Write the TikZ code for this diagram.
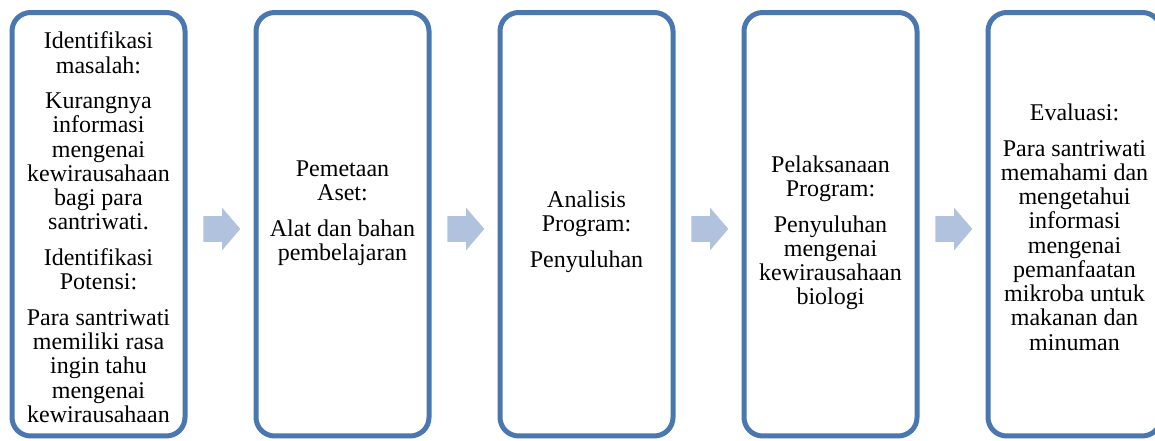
\documentclass[tikz,border=0pt]{standalone}
\usepackage{fontspec}
\setmainfont{Liberation Serif}
\usetikzlibrary{shapes.arrows, positioning}
\definecolor{stepline}{HTML}{4A77B0}
\definecolor{arrowfill}{HTML}{B1C2DE}

\begin{document}
\begin{tikzpicture}[x=0.75pt, y=-0.75pt,
    stepbox/.style={draw=stepline, line width=3.75pt, rounded corners=14pt, fill=white,
      minimum width=129.75pt, minimum height=317.6pt, inner sep=0pt},
    steptext/.style={anchor=north, inner sep=0pt, align=center, font=\fontsize{18}{18.2}\selectfont},
    flowarrow/.style={single arrow, fill=arrowfill, draw=none, minimum height=27.75pt,
      minimum width=31.5pt, single arrow head extend=6.375pt, inner xsep=0pt,
      inner ysep=9.375pt, single arrow tip angle=99, anchor=tail}]
  \useasboundingbox (0,0) rectangle (1155,441);
  \clip (0,0) rectangle (1155,441);
  % five stages
  \foreach \i in {1,...,5}
    \node[stepbox] (box\i) at ({98.5+244*(\i-1)},224.25) {};
  % block arrows between the stages
  \foreach \i in {1,...,4}
    \node[flowarrow] (arr\i) at ({203+244*(\i-1)},229) {};
  % texts
  \node[steptext] (txt1) at (98.5,31.6) {Identifikasi\\ masalah:\\[8.5pt]
    Kurangnya\\ informasi\\ mengenai\\ kewirausahaan\\ bagi para\\ santriwati.\\[8.5pt]
    Identifikasi\\ Potensi:\\[8.5pt]
    Para santriwati\\ memiliki rasa\\ ingin tahu\\ mengenai\\ kewirausahaan};
  \node[steptext] (txt2) at (342.5,160.3) {Pemetaan\\ Aset:\\[8.5pt]
    Alat dan bahan\\ pembelajaran};
  \node[steptext] (txt3) at (586.5,190.3) {Analisis\\ Program:\\[8.5pt]
    Penyuluhan};
  \node[steptext] (txt4) at (830.5,155.3) {Pelaksanaan\\ Program:\\[8.5pt]
    Penyuluhan\\ mengenai\\ kewirausahaan\\ biologi};
  \node[steptext] (txt5) at (1074.5,103.6) {Evaluasi:\\[8.5pt]
    Para santriwati\\ memahami dan\\ mengetahui\\ informasi\\ mengenai\\ pemanfaatan\\
    mikroba untuk\\ makanan dan\\ minuman};
\end{tikzpicture}
\end{document}
